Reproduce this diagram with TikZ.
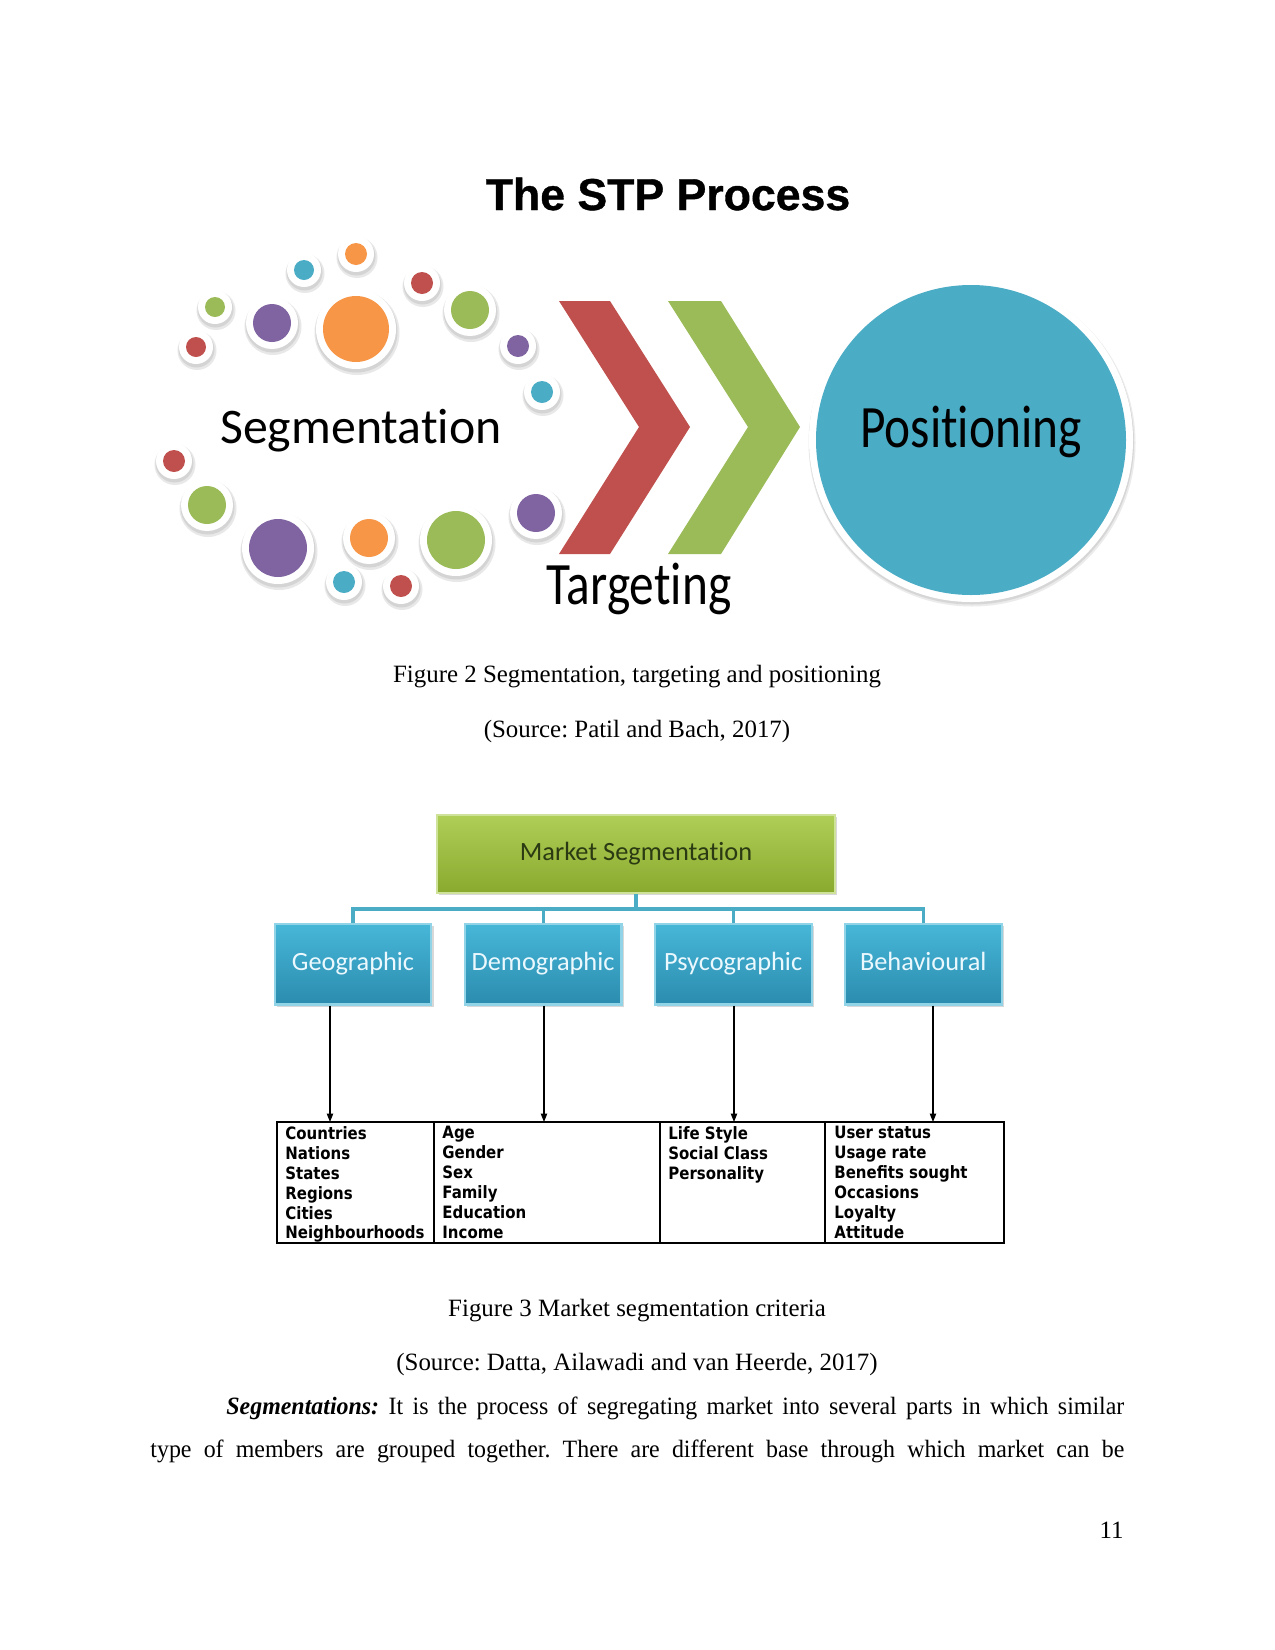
\documentclass[tikz,border=0pt]{standalone}
\usepackage{fontspec}
\setmainfont{Liberation Serif}
\newfontfamily\titlefont[BoldFeatures={FakeBold=0.8}]{Liberation Sans}
\newfontfamily\calib[RawFeature={-liga;-clig;-calt;-dlig}]{Carlito}
\newfontfamily\calibcond[FakeStretch=0.82, RawFeature={-liga;-clig;-calt;-dlig}]{Carlito}
\newfontfamily\critfont[FakeStretch=0.88]{DejaVu Sans}
\newfontfamily\bodyfont[FakeStretch=0.96]{Liberation Serif}
\usepackage{xcolor}
\usetikzlibrary{positioning, arrows.meta, shadows}
\definecolor{stpred}{HTML}{C0504D}
\definecolor{stpgreen}{HTML}{9BBB59}
\definecolor{stpblue}{HTML}{4BACC6}
\definecolor{stpviolet}{HTML}{8064A2}
\definecolor{stporange}{HTML}{F79646}
\definecolor{msgreentop}{HTML}{AFCE57}
\definecolor{msgreenbot}{HTML}{88A92E}
\definecolor{mstext}{HTML}{2B3A12}
\definecolor{boxbluetop}{HTML}{47B7D8}
\definecolor{boxbluebot}{HTML}{2B8CAF}
\tikzset{
    stp/.style={
        x=0.016933cm, y=-0.016933cm,
        >=stealth,
        title_text/.style={anchor=base, font=\titlefont\bfseries\fontsize{21.5}{26}\selectfont},
        big_label/.style={anchor=base, font=\calib\fontsize{24}{29}\selectfont},
        cond_label/.style={anchor=base, font=\calibcond\fontsize{29}{34}\selectfont},
        caption/.style={anchor=base, font=\fontsize{12}{14.5}\selectfont},
        body_line/.style={anchor=base west, inner sep=0pt, font=\bodyfont\fontsize{12}{14.5}\selectfont},
        ms_block/.style={rectangle, minimum width=191.8pt, minimum height=37.6pt,
            text height=9pt, text depth=2.5pt,
            top color=msgreentop, bottom color=msgreenbot, draw=msgreentop!60!white, line width=1pt,
            text=mstext, font=\calib\fontsize{12.7}{15}\selectfont,
            drop shadow={opacity=0.3, shadow xshift=1pt, shadow yshift=-1pt}},
        crit_block/.style={rectangle, minimum width=75.6pt, minimum height=39pt, inner sep=0pt,
            text height=9pt, text depth=2.5pt,
            top color=boxbluetop, bottom color=boxbluebot, draw=boxbluetop!60!white, line width=1pt,
            text=white!92!cyan, font=\calib\fontsize{12.7}{15}\selectfont,
            drop shadow={opacity=0.3, shadow xshift=1pt, shadow yshift=-1pt}},
        bus_line/.style={draw=stpblue, line width=1.5pt},
        table_line/.style={draw=black, line width=0.6pt},
        crit_list/.style={anchor=north west, inner sep=0pt, align=left,
            font=\critfont\bfseries\fontsize{8.2}{9.6}\selectfont},
        arr/.style={line width=0.6pt, -{Triangle[length=4pt,width=3pt]}},
        dot_shadow/.style={fill=black!9},
        dot_shadow_in/.style={fill=black!17}
    }
}
\begin{document}
\frenchspacing
\begin{tikzpicture}[stp]
    % Page
    \useasboundingbox (0,0) rectangle (1275,1650);
    \fill[white] (0,0) rectangle (1275,1650);

    % Title
    \node[title_text] (title) at (668,210) {The STP Process};

    % Segmentation dots
    \foreach \cx/\cy/\r/\c in {356/254/11/stporange, 304/270/10/stpblue, 422/283/11/stpred,
        215/307/10/stpgreen, 272/323/19/stpviolet, 356/329/33/stporange, 470/310/19/stpgreen,
        196/347/10/stpred, 518/346/11/stpviolet, 542/392/11/stpblue, 174/461/11/stpred,
        207/505/19/stpgreen, 278/548/29/stpviolet, 369/538/19/stporange, 456/540/29/stpgreen,
        536/513/19/stpviolet, 344/582/11/stpblue, 401/586/11/stpred} {
        \fill[dot_shadow] (\cx+1,\cy+3.5) circle [radius=\r+9.5];
        \fill[dot_shadow_in] (\cx+0.5,\cy+2.5) circle [radius=\r+8];
        \fill[white] (\cx,\cy) circle [radius=\r+7];
        \fill[\c] (\cx,\cy) circle [radius=\r];
    }

    % Chevrons
    \fill[stpred] (559,301) -- (610,301) -- (690,427) -- (610,554) -- (559,554) -- (639,427) -- cycle;
    \fill[stpgreen] (668,301) -- (721,301) -- (800,427) -- (721,554) -- (668,554) -- (748,427) -- cycle;

    % Positioning disc
    \fill[black!8] (972,443) circle [radius=163.5];
    \fill[black!16] (971.5,442) circle [radius=162.5];
    \fill[white] (971,440) circle [radius=162];
    \fill[stpblue] (971,440) circle [radius=155];

    % Stage labels (kern keeps t and i apart)
    \node[big_label] (seg) at (361,443) {Segmentat\kern0pt ion};
    \node[cond_label] (tgt) at (639,604) {Target\kern0pt ing};
    \node[cond_label] (pos) at (971,447) {Posit\kern0pt ioning};

    % Captions of figure 2
    \node[caption] (cap2) at (637,682) {Figure 2 Segmentation, targeting and positioning};
    \node[caption] (src2) at (637,737) {(Source: Patil and Bach, 2017)};

    % Market segmentation tree
    \node[ms_block] (ms) at (636,854) {Market Segmentat\kern0pt ion};
    \node[crit_block] (geo) at (353,964) {Geographic};
    \node[crit_block, right=15pt of geo] (demo) {Demographic};
    \node[crit_block, right=15pt of demo] (psy) {Psycographic};
    \node[crit_block, right=15pt of psy] (beh) {Behavioural};

    \coordinate (bus) at (636,909);
    \draw[bus_line] (ms.south) -- (bus);
    \draw[bus_line] (geo.north) |- (bus) -| (beh.north);
    \draw[bus_line] (demo.north) -- (demo.north |- bus);
    \draw[bus_line] (psy.north) -- (psy.north |- bus);

    % Criteria table
    \draw[table_line] (277,1122) rectangle (1004,1243);
    \foreach \x in {434,660,825}
        \draw[table_line] (\x,1122) -- (\x,1243);

    \coordinate (geo_in) at (330,1122);
    \coordinate (demo_in) at (544,1122);
    \coordinate (psy_in) at (734,1122);
    \coordinate (beh_in) at (933,1122);
    \foreach \src in {geo, demo, psy, beh}
        \draw[arr] (\src.south -| \src_in) -- (\src_in);

    \node[crit_list] (geo_list) at (285,1126) {Countries\\Nations\\States\\Regions\\Cities\\Neighbourhoods};
    \node[crit_list] (demo_list) at (442,1126) {Age\\Gender\\Sex\\Family\\Education\\Income};
    \node[crit_list] (psy_list) at (668,1126) {Life Style\\Social Class\\Personality};
    \node[crit_list] (beh_list) at (834,1126) {User status\\Usage rate\\Benefits sought\\Occasions\\Loyalty\\Attitude};

    % Captions of figure 3
    \node[caption] (cap3) at (637,1316) {Figure 3 Market segmentation criteria};
    \node[caption] (src3) at (637,1370) {(Source: Datta, Ailawadi and van Heerde, 2017)};

    % Body text
    \node[body_line] (para1) at (226,1414) {\makebox[432.7pt][s]{\textbf{\textit{Segmentations:}} It is the process of segregating market into several parts in which similar}};
    \node[body_line] (para2) at (150,1457) {\makebox[469.3pt][s]{type of members are grouped together. There are different base through which market can be}};
    \node[caption, anchor=base east, inner sep=0pt] (pagenum) at (1124,1538) {11};
\end{tikzpicture}
\end{document}
